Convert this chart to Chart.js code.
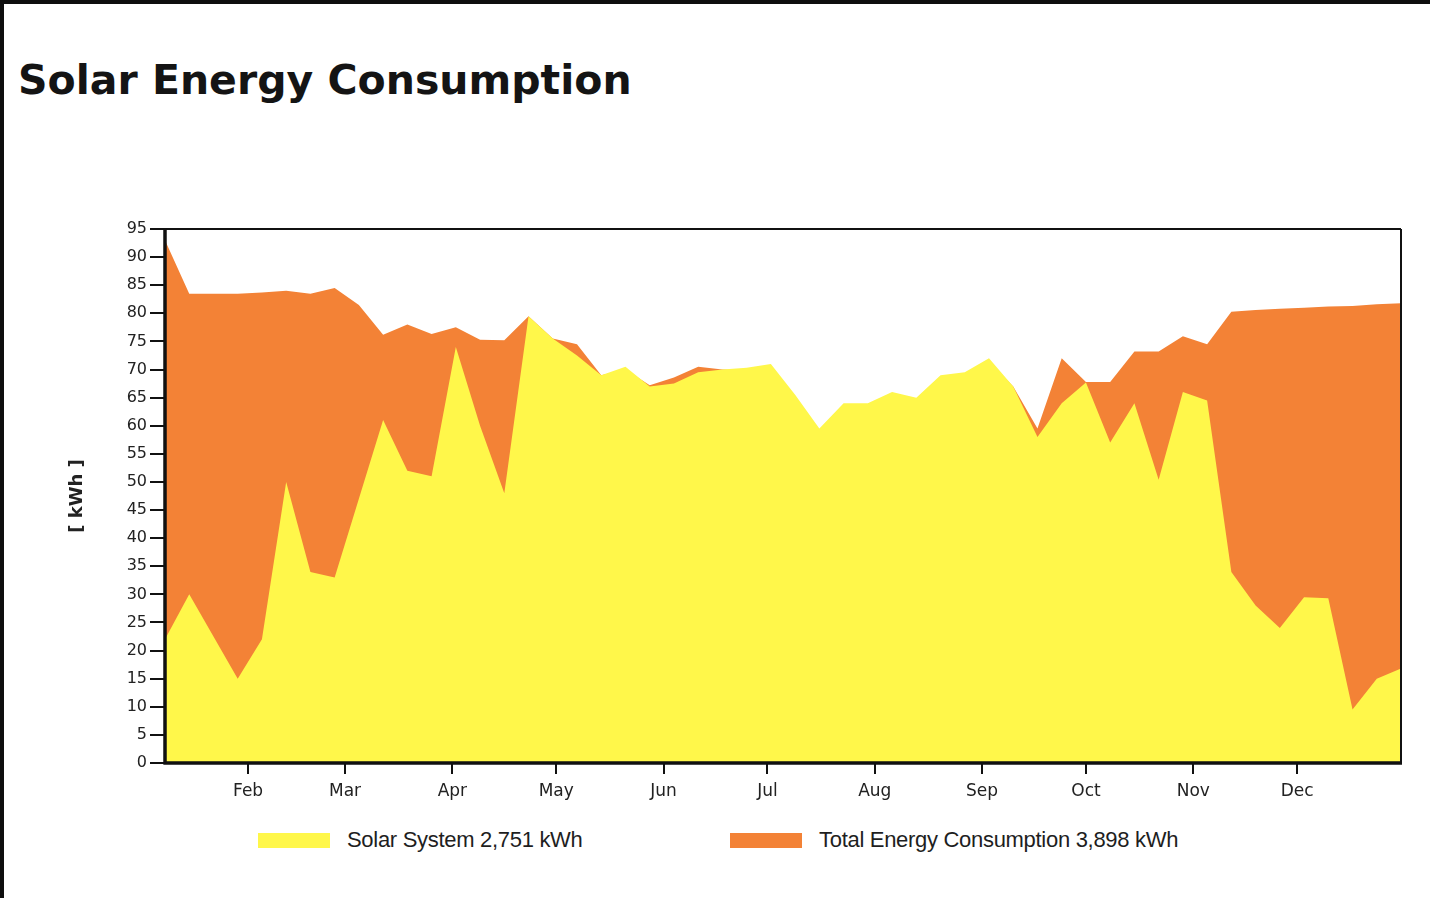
<!DOCTYPE html>
<html>
<head>
<meta charset="utf-8">
<script src="https://cdn.jsdelivr.net/npm/chart.js@4/dist/chart.umd.min.js"></script>
<style>
  html, body { margin: 0; padding: 0; background: #0e0e0e; width: 1430px; height: 898px; overflow: hidden; }
  #page { position: absolute; left: 4px; top: 4px; width: 1426px; height: 894px; background: #ffffff; }
  #title { position: absolute; left: 14px; top: 52px; margin: 0; font-family: "DejaVu Sans", sans-serif; font-weight: bold; font-size: 41px; color: #141414; white-space: nowrap; }
  #wrap { position: absolute; left: -4px; top: 196px; width: 1430px; height: 610px; }
  .leg { position: absolute; top: 822px; height: 28px; display: flex; align-items: center; font-family: "Liberation Sans Narrow", "Liberation Sans", sans-serif; font-size: 22px; color: #1e1e1e; letter-spacing: -0.3px; white-space: nowrap; }
  .sw { display: inline-block; width: 72px; height: 15px; margin-right: 17px; }
</style>
</head>
<body>
<div id="page">
  <h1 id="title">Solar Energy Consumption</h1>
  <div id="wrap"><canvas id="c" width="1430" height="610"></canvas></div>
  <div class="leg" id="leg1" style="left:254px;"><span class="sw" id="sw1"></span><span id="lt1"></span></div>
  <div class="leg" id="leg2" style="left:726px;"><span class="sw" id="sw2"></span><span id="lt2"></span></div>
</div>
<script>
// Weekly data points (day of year)
const weekDays = [8,15,22,29,36,43,50,57,64,71,78,85,92,99,106,113,120,127,134,141,148,155,162,169,176,183,190,197,204,211,218,225,232,239,246,253,260,267,274,281,288,295,302,309,316,323,330,337,344,351,358,365];
// Solar System weekly production [kWh]
const solarValues = [22,30,22.5,15,22,50,34,33,47,61,52,51,74,60,48,79.5,75.5,72.5,69,70.5,67,67.5,69.5,70,70.3,71,65.5,59.5,64,64,66,65,69,69.5,72,67,58,64,67.7,57,64,50.4,66,64.5,34,28,24,29.5,29.3,9.5,15,16.8];
// Total energy consumption weekly [kWh]
const totalValues = [93,83.5,83.5,83.5,83.7,84,83.5,84.5,81.5,76.2,78,76.3,77.5,75.3,75.2,79.5,75.5,74.5,69,70,67.2,68.6,70.5,70,69.8,70.5,65,59,63.5,63.5,65.5,64.5,68.5,69,71.5,67,59.5,72,67.8,67.8,73.2,73.2,75.9,74.5,80.3,80.6,80.8,81,81.2,81.3,81.6,81.8];
// Month tick positions (day of year of 1st day) and labels
const monthDays = [32,60,91,121,152,182,213,244,274,305,335];
const monthLabels = ['Feb','Mar','Apr','May','Jun','Jul','Aug','Sep','Oct','Nov','Dec'];
const seriesNames = ['Solar System 2,751 kWh', 'Total Energy Consumption 3,898 kWh'];
const yAxisTitle = '[ kWh ]';

const YELLOW = '#fff74a';
const ORANGE = '#f38236';

document.getElementById('sw1').style.background = YELLOW;
document.getElementById('sw2').style.background = ORANGE;
document.getElementById('lt1').textContent = seriesNames[0];
document.getElementById('lt2').textContent = seriesNames[1];

const framePlugin = {
  id: 'frame',
  afterDatasetsDraw(chart) {
    const {ctx, chartArea: a} = chart;
    ctx.save();
    ctx.strokeStyle = '#111';
    ctx.lineWidth = 2;
    ctx.beginPath();
    ctx.moveTo(a.left, a.top); ctx.lineTo(a.right, a.top);
    ctx.moveTo(a.right, a.top); ctx.lineTo(a.right, a.bottom);
    ctx.stroke();
    ctx.lineWidth = 3.5;
    ctx.beginPath();
    ctx.moveTo(a.left, a.top - 1); ctx.lineTo(a.left, a.bottom + 1.5);
    ctx.moveTo(a.left - 1.5, a.bottom); ctx.lineTo(a.right + 1, a.bottom);
    ctx.stroke();
    ctx.restore();
  }
};

const toPts = vals => weekDays.map((d, i) => ({x: d, y: vals[i]}));

new Chart(document.getElementById('c'), {
  type: 'line',
  data: {
    datasets: [
      { label: seriesNames[0], data: toPts(solarValues), backgroundColor: YELLOW, borderWidth: 0, pointRadius: 0, fill: 'origin', tension: 0 },
      { label: seriesNames[1], data: toPts(totalValues), backgroundColor: ORANGE, borderWidth: 0, pointRadius: 0, fill: 'origin', tension: 0 }
    ]
  },
  options: {
    responsive: false,
    animation: false,
    events: [],
    layout: { padding: { left: 62, right: 29, top: 29, bottom: 0 } },
    plugins: { legend: { display: false }, tooltip: { enabled: false } },
    scales: {
      x: {
        type: 'linear', min: 8, max: 365,
        afterBuildTicks: s => { s.ticks = monthDays.map(v => ({value: v})); },
        afterFit: s => { s.height = 47; },
        ticks: {
          autoSkip: false, maxRotation: 0, padding: 7, color: '#222',
          font: { family: 'DejaVu Sans', size: 17 },
          callback: v => monthLabels[monthDays.indexOf(v)]
        },
        grid: { drawOnChartArea: false, drawTicks: true, tickLength: 11, color: '#111', lineWidth: 2 },
        border: { display: false }
      },
      y: {
        min: 0, max: 95,
        afterFit: s => { s.width = 103; },
        ticks: { stepSize: 5, padding: 3, color: '#222', font: { family: 'DejaVu Sans', size: 16 } },
        grid: { drawOnChartArea: false, drawTicks: true, tickLength: 15, color: '#111', lineWidth: 2 },
        border: { display: false },
        title: { display: true, text: yAxisTitle, color: '#222', font: { family: 'DejaVu Sans', size: 18, weight: 'bold' }, padding: { top: 5, bottom: 0 } }
      }
    }
  },
  plugins: [framePlugin]
});
</script>
</body>
</html>
